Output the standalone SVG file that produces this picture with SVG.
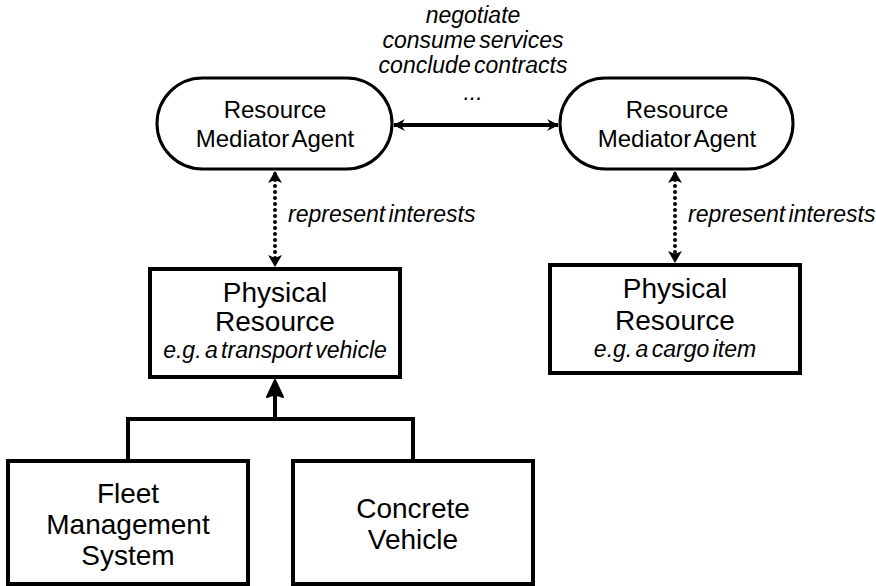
<svg xmlns="http://www.w3.org/2000/svg" width="876" height="586" viewBox="0 0 876 586">
<style>
.t{font-family:"Liberation Sans",Arial,sans-serif;fill:#000;text-anchor:middle}
.n{font-size:24px;word-spacing:-3px}
.p{font-size:28px}
.i{font-size:23px;font-style:italic;word-spacing:-3px}
.box{fill:#fff;stroke:#000;stroke-width:4}
.ag{fill:#fff;stroke:#000;stroke-width:3}
.ln{fill:none;stroke:#000;stroke-width:4}
.dot{fill:none;stroke:#000;stroke-width:4;stroke-dasharray:0 6;stroke-linecap:round}
</style>
<defs>
<marker id="stealth" viewBox="0 0 12 12" refX="11" refY="6" markerWidth="12" markerHeight="13" markerUnits="userSpaceOnUse" orient="auto-start-reverse">
<path d="M0,0 L12,6 L0,12 L4,6 Z" fill="#000"/>
</marker>
</defs>
<rect width="876" height="586" fill="#fff"/>
<g id="connectors">
<line x1="394" y1="125" x2="558" y2="125" class="ln" stroke-width="3.5" marker-start="url(#stealth)" marker-end="url(#stealth)"/>
<line x1="275" y1="174" x2="275" y2="264" class="dot"/>
<path d="M275,171 L268,183 L275,180 L282,183 Z" fill="#000"/>
<path d="M275,267 L268,255 L275,258 L282,255 Z" fill="#000"/>
<line x1="675" y1="174" x2="675" y2="260" class="dot"/>
<path d="M675,171 L668,183 L675,180 L682,183 Z" fill="#000"/>
<path d="M675,263 L668,251 L675,254 L682,251 Z" fill="#000"/>
<polyline points="128,461 128,419 413,419 413,461" class="ln"/>
<line x1="275" y1="421" x2="275" y2="392" class="ln"/>
<path d="M275,380 L267,397 Q275,393 283,397 Z" fill="#000" stroke="#000" stroke-width="2" stroke-linejoin="round"/>
</g>
<g id="labels">
<text class="t i" x="473" y="23">negotiate</text>
<text class="t i" x="473" y="48">consume services</text>
<text class="t i" x="473" y="73">conclude contracts</text>
<text class="t i" x="473" y="100">...</text>
<text class="t i" x="288" y="222" style="text-anchor:start">represent interests</text>
<text class="t i" x="688" y="222" style="text-anchor:start">represent interests</text>
</g>
<g id="agent-left">
<rect x="157" y="78" width="235" height="91" rx="45.5" class="ag"/>
<text class="t n" x="275" y="118">Resource</text>
<text class="t n" x="275" y="147">Mediator Agent</text>
</g>
<g id="agent-right">
<rect x="560" y="78" width="233" height="91" rx="45.5" class="ag"/>
<text class="t n" x="677" y="118">Resource</text>
<text class="t n" x="677" y="147">Mediator Agent</text>
</g>
<g id="resource-left">
<rect x="150" y="269" width="250" height="108" class="box"/>
<text class="t p" x="275" y="302">Physical</text>
<text class="t p" x="275" y="331">Resource</text>
<text class="t i" x="275" y="358">e.g. a transport vehicle</text>
</g>
<g id="resource-right">
<rect x="550" y="265" width="250" height="108" class="box"/>
<text class="t p" x="675" y="298">Physical</text>
<text class="t p" x="675" y="330">Resource</text>
<text class="t i" x="675" y="357">e.g. a cargo item</text>
</g>
<g id="fleet">
<rect x="8" y="461" width="240" height="123" class="box"/>
<text class="t p" x="128" y="503">Fleet</text>
<text class="t p" x="128" y="534">Management</text>
<text class="t p" x="128" y="565">System</text>
</g>
<g id="vehicle">
<rect x="293" y="461" width="240" height="123" class="box"/>
<text class="t p" x="413" y="518">Concrete</text>
<text class="t p" x="413" y="549">Vehicle</text>
</g>
</svg>
